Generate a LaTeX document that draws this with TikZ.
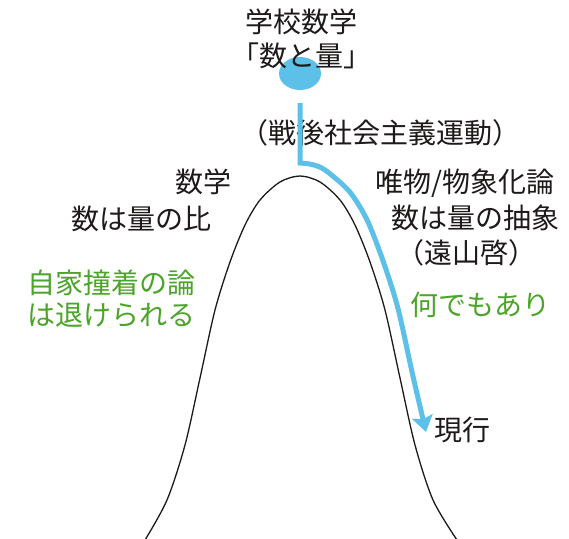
\documentclass[tikz,border=0pt]{standalone}
\usepackage{fontspec}
\newfontfamily\jpfont{Noto Sans CJK JP}
\usetikzlibrary{arrows.meta,shapes.geometric}
\definecolor{flowblue}{RGB}{92,192,232}
\definecolor{notegreen}{RGB}{76,165,42}
\definecolor{inkdark}{RGB}{30,26,26}
\begin{document}
\begin{tikzpicture}[x=1pt,y=-1pt,
  lbl/.style={font=\jpfont\fontsize{28}{34}\selectfont, inner sep=0pt, text=inkdark},
  note/.style={lbl, text=notegreen},
  flow/.style={draw=flowblue, line width=5pt, line join=miter,
    -{Stealth[length=16pt,width=21pt,inset=3pt]}},
  hill/.style={draw=inkdark, line width=1.3pt}
]
\useasboundingbox (0,0) rectangle (569,538);
\fill[white] (0,0) rectangle (569,538);

% starting point: school mathematics
\node (origin) [ellipse, fill=flowblue, minimum width=42pt, minimum height=33pt, inner sep=0pt] at (300,73.5) {};

% the hill
\draw[hill] plot[smooth] coordinates {(145,540) (167,500) (185,445) (200,378) (215,310) (230,262) (245,225) (260,200) (280,182) (300,176) (320,182) (340,200) (355,225) (370,262) (385,310) (400,378) (415,445) (433,500) (457,540)};

% labels
\node[lbl] (school) at (301,22) {学校数学};
\node[lbl] (quant) at (301,56) {「数と量」};
\node[lbl] (postwar) at (380,133) {（戦後社会主義運動）};
\node[lbl] (math) at (203,182) {数学};
\node[lbl] (ratio) at (141,219) {数は量の比};
\node[lbl] (reify) at (465,183) {唯物/物象化論};
\node[lbl] (abstr) at (475,218) {数は量の抽象};
\node[lbl] (toyama) at (466.5,253) {（遠山啓）};
\node[note, anchor=west] (contra) at (27,283) {自家撞着の論};
\node[note, anchor=west] (reject) at (27,315) {は退けられる};
\node[note] (anything) at (480,305) {何でもあり};
\node[lbl] (now) at (462,430) {現行};

% path from the start over the hill down to the present
\coordinate (bend) at (300,163);
\coordinate (tip) at ([xshift=-36pt,yshift=-2pt]now.center);
\draw[flow] ([yshift=-13pt]origin.south) -- (bend) -- plot[smooth] coordinates {(bend) (312,164.5) (325,170) (349,191) (366.6,219) (382,258) (397.6,307) (412.7,375) (tip)};
\end{tikzpicture}
\end{document}
